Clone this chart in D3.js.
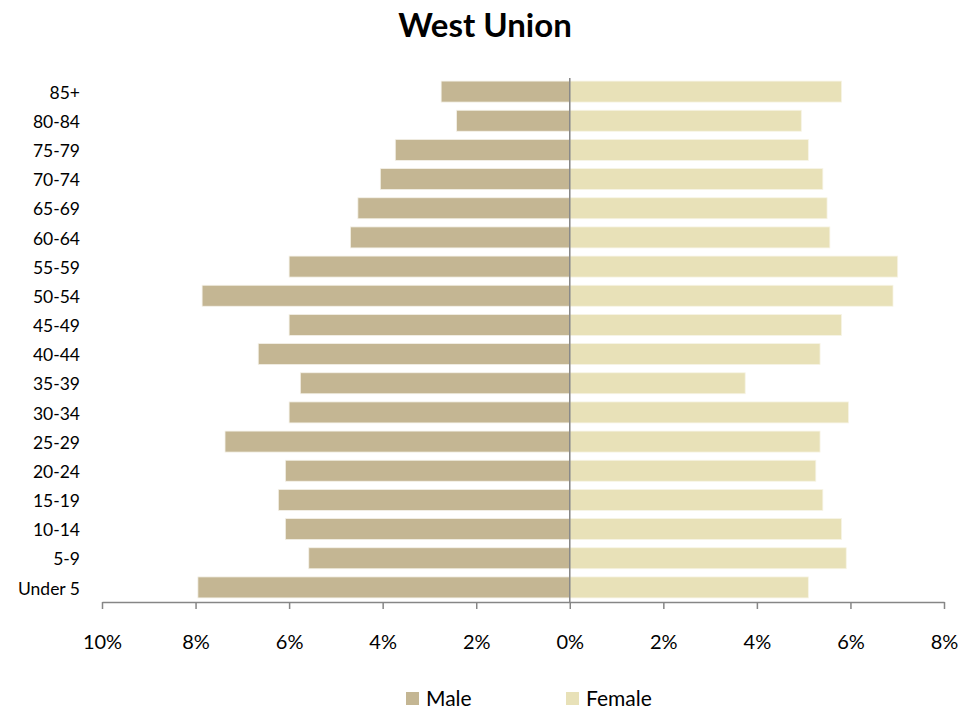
<!DOCTYPE html>
<html>
<head>
<meta charset="utf-8">
<script src="https://cdn.jsdelivr.net/npm/d3@7/dist/d3.min.js"></script>
<style>
  html, body { margin: 0; padding: 0; background: #fff; }
  svg { display: block; font-family: Lato, "Open Sans", sans-serif; }
</style>
</head>
<body>
<svg id="chart" width="974" height="713"></svg>
<script>
const categories = ["85+", "80-84", "75-79", "70-74", "65-69", "60-64", "55-59", "50-54", "45-49",
  "40-44", "35-39", "30-34", "25-29", "20-24", "15-19", "10-14", "5-9", "Under 5"];
const maleValues = [2.75, 2.42, 3.73, 4.05, 4.53, 4.69, 6.00, 7.86, 6.00,
  6.66, 5.76, 6.00, 7.37, 6.08, 6.23, 6.08, 5.58, 7.95];
const femaleValues = [5.81, 4.95, 5.10, 5.41, 5.50, 5.56, 7.01, 6.91, 5.81,
  5.35, 3.75, 5.96, 5.35, 5.26, 5.41, 5.81, 5.91, 5.10];
const tickValues = [-10, -8, -6, -4, -2, 0, 2, 4, 6, 8];
const seriesNames = ["Male", "Female"];
const title = "West Union";

const colors = { Male: "#C4B693", Female: "#E8E1B8" };
const svg = d3.select("#chart");

const x = d3.scaleLinear().domain([-10, 8]).range([102, 944]);
const y = d3.scaleBand().domain(categories).range([77, 602]).paddingInner(0.28).paddingOuter(0.14);

// Title
svg.append("text")
  .attr("x", 485).attr("y", 37)
  .attr("text-anchor", "middle")
  .attr("font-size", 33).attr("font-weight", "bold")
  .attr("fill", "#000")
  .text(title);

// Male bars
svg.append("g").selectAll("rect")
  .data(categories.map((c, i) => ({ c, v: maleValues[i] })))
  .join("rect")
  .attr("x", d => x(-d.v))
  .attr("y", d => y(d.c))
  .attr("width", d => x(0) - x(-d.v))
  .attr("height", y.bandwidth())
  .attr("fill", colors.Male)
  .attr("stroke", "#f4f1e8").attr("stroke-width", 0.8);

// Female bars
svg.append("g").selectAll("rect")
  .data(categories.map((c, i) => ({ c, v: femaleValues[i] })))
  .join("rect")
  .attr("x", x(0))
  .attr("y", d => y(d.c))
  .attr("width", d => x(d.v) - x(0))
  .attr("height", y.bandwidth())
  .attr("fill", colors.Female)
  .attr("stroke", "#f7f4e6").attr("stroke-width", 0.8);

// Category labels
svg.append("g").selectAll("text")
  .data(categories)
  .join("text")
  .attr("x", 80)
  .attr("y", d => y(d) + y.bandwidth() / 2 + 1)
  .attr("dy", "0.35em")
  .attr("text-anchor", "end")
  .attr("font-size", 17.5)
  .attr("fill", "#000")
  .text(d => d);

// Vertical zero line
svg.append("line")
  .attr("x1", x(0)).attr("x2", x(0))
  .attr("y1", 78).attr("y2", 602)
  .attr("stroke", "#868686").attr("stroke-width", 1.5);

// X axis
const xAxis = d3.axisBottom(x)
  .tickValues(tickValues)
  .tickSize(7)
  .tickSizeOuter(0)
  .tickFormat(d => Math.abs(d) + "%");
const gx = svg.append("g").attr("transform", "translate(0,602)").call(xAxis);
gx.select(".domain").attr("stroke", "#868686").attr("stroke-width", 1.5);
gx.selectAll(".tick line").attr("stroke", "#868686").attr("stroke-width", 1.5);
gx.selectAll(".tick text")
  .attr("y", 33).attr("dy", "0.71em")
  .attr("font-size", 20).attr("fill", "#000")
  .attr("font-family", "Lato, 'Open Sans', sans-serif");

// Legend
const legend = svg.append("g");
const legendX = [406, 566];
seriesNames.forEach((name, i) => {
  legend.append("rect")
    .attr("x", legendX[i]).attr("y", 692)
    .attr("width", 13).attr("height", 13)
    .attr("fill", colors[name]);
  legend.append("text")
    .attr("x", legendX[i] + 20).attr("y", 706)
    .attr("font-size", 21).attr("fill", "#000")
    .text(name);
});
</script>
</body>
</html>
